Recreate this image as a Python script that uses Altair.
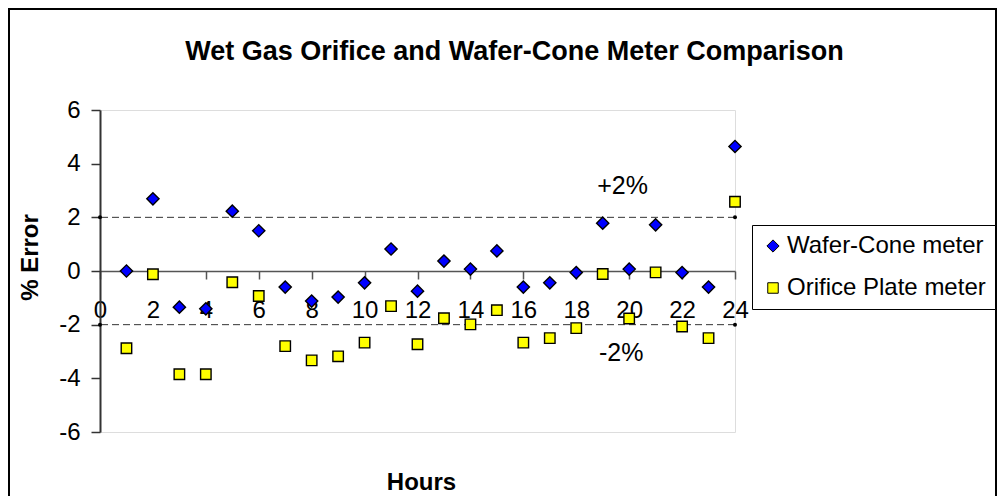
import altair as alt
import pandas as pd

# ---- data ----
hours = list(range(1, 25))
wafer_cone = [0.00, 2.69, -1.35, -1.41, 2.23, 1.50, -0.60, -1.12, -0.97, -0.44, 0.82, -0.75,
              0.37, 0.07, 0.75, -0.60, -0.44, -0.06, 1.78, 0.07, 1.72, -0.06, -0.60, 4.64]
orifice = [-2.88, -0.12, -3.85, -3.85, -0.42, -0.93, -2.80, -3.33, -3.18, -2.67, -1.31, -2.73,
           -1.76, -1.99, -1.46, -2.67, -2.50, -2.13, -0.11, -1.77, -0.05, -2.07, -2.50, 2.58]
series_names = ["Wafer-Cone meter", "Orifice Plate meter"]
series_colors = ["#0000FF", "#FFFF00"]
series_outline = ["black", "black"]
series_shapes = ["diamond", "square"]
x_ticks = list(range(0, 25, 2))
y_ticks = list(range(-6, 7, 2))
limit_levels = [2, -2]
limit_ends = [0, 24]
limit_labels = ["+2%", "-2%"]
limit_label_hours = [19.75, 19.7]
limit_label_values = [3.17, -3.04]

FONT = "Liberation Sans"

points = pd.DataFrame({
    "hour": hours + hours,
    "value": wafer_cone + orifice,
    "series": [series_names[0]] * len(hours) + [series_names[1]] * len(hours),
})
rules = pd.DataFrame({"value": limit_levels})
dots = pd.DataFrame([{"hour": h, "value": v} for v in limit_levels for h in limit_ends])
labels = pd.DataFrame({"hour": limit_label_hours, "value": limit_label_values, "label": limit_labels})
frame = pd.DataFrame({"k": [0]})

xscale = alt.Scale(domain=[0, 24], nice=False, zero=False)
yscale = alt.Scale(domain=[-6, 6], nice=False, zero=False)

x_axis = alt.Axis(
    values=x_ticks, offset=-161, title="Hours", grid=False, labelExpr="'' + datum.value",
    domainColor="#555555", domainWidth=1.5, tickColor="#555555", tickWidth=1.5, tickSize=8,
    labelFontSize=24, labelFont=FONT, labelColor="black", labelPadding=19, labelFlush=False,
    titleFont=FONT, titleFontSize=24, titleFontWeight="bold", titleColor="black",
    titleX=321, titleY=218, titleBaseline="alphabetic", titleAlign="center",
)
y_axis = alt.Axis(
    values=y_ticks, title="% Error", grid=False, labelExpr="'' + datum.value",
    domainColor="#333333", domainWidth=2, tickColor="#333333", tickWidth=1.5, tickSize=9,
    labelFontSize=24, labelFont=FONT, labelColor="black", labelPadding=11,
    titleFont=FONT, titleFontSize=24, titleFontWeight="bold", titleColor="black",
    titleAngle=270, titleX=-63, titleY=147, titleBaseline="alphabetic", titleAlign="center",
)

legend = alt.Legend(
    title=None, orient="none", legendX=652, legendY=115,
    strokeColor="black", fillColor="white", padding=9,
    labelFontSize=24, labelFont=FONT, labelColor="black", labelOffset=2, labelLimit=300,
    symbolSize=85, symbolOpacity=1, symbolStrokeWidth=1,
    rowPadding=18, cornerRadius=0,
)

border = alt.Chart(frame).mark_rect(
    fillOpacity=0, stroke="black", strokeWidth=2
).encode(
    x=alt.value(-91), x2=alt.value(896), y=alt.value(-101), y2=alt.value(400)
)

limit_rules = alt.Chart(rules).mark_rule(
    color="#333333", strokeWidth=1, strokeDash=[7, 4]
).encode(y=alt.Y("value:Q", scale=yscale))

limit_dots = alt.Chart(dots).mark_circle(size=16, color="black", opacity=1).encode(
    x=alt.X("hour:Q", scale=xscale), y=alt.Y("value:Q", scale=yscale)
)

limit_text = alt.Chart(labels).mark_text(fontSize=25, font=FONT, color="black").encode(
    x=alt.X("hour:Q", scale=xscale), y=alt.Y("value:Q", scale=yscale), text="label:N"
)

pts = alt.Chart(points).mark_point(
    filled=True, opacity=1, strokeWidth=1.4
).encode(
    x=alt.X("hour:Q", scale=xscale, axis=x_axis),
    y=alt.Y("value:Q", scale=yscale, axis=y_axis),
    color=alt.Color("series:N", scale=alt.Scale(domain=series_names, range=series_colors), legend=legend),
    stroke=alt.Stroke("series:N", scale=alt.Scale(domain=series_names, range=series_outline), legend=legend),
    shape=alt.Shape("series:N", scale=alt.Scale(domain=series_names, range=series_shapes), legend=legend),
    size=alt.Size("series:N", scale=alt.Scale(domain=series_names, range=[150, 110]), legend=None),
)

chart = alt.layer(border, limit_rules, limit_dots, limit_text, pts).properties(
    width=635, height=322,
    autosize=alt.AutoSizeParams(type="none"),
    padding={"left": 92, "top": 102, "right": 262, "bottom": 64},
    title=alt.TitleParams(
        "Wet Gas Orifice and Wafer-Cone Meter Comparison",
        font=FONT, fontSize=27, fontWeight="bold", color="black",
        anchor="middle", frame="group", dx=97, offset=0, dy=79, baseline="alphabetic",
    ),
).configure_view(
    stroke="#888888", strokeWidth=2
).configure(background="white")

chart.save("out.html", embed_options={"renderer": "svg", "actions": False})
